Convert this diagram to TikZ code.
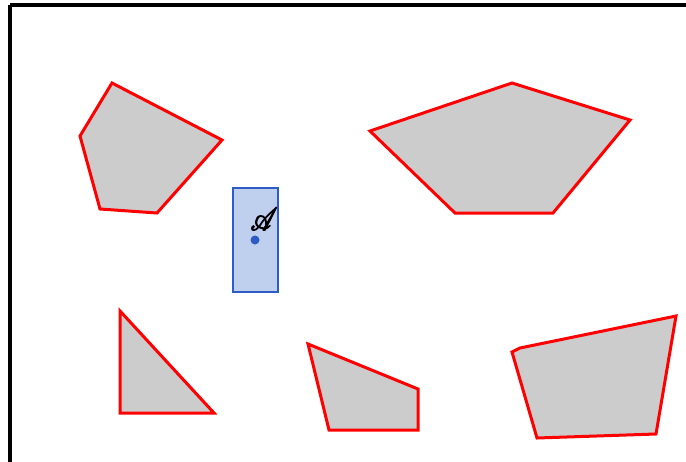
\documentclass[tikz,border=0pt]{standalone}
\usepackage{mathrsfs}
\definecolor{robfill}{HTML}{BFCFEE}
\definecolor{robdraw}{HTML}{2F5BC6}
\definecolor{obsfill}{HTML}{CCCCCC}
\newcommand{\fakebold}[1]{\special{pdf:literal direct 2 Tr 0.35 w}#1\special{pdf:literal direct 0 Tr}}
\begin{document}
\begin{tikzpicture}[x=1pt,y=-1pt,
  obst/.style={draw=red,fill=obsfill,line width=3pt,line join=miter},
  robot/.style={draw=robdraw,fill=robfill,line width=2pt}]
\useasboundingbox (0,0) rectangle (686,461);
\clip (0,0) rectangle (686,461);
\draw[line width=3.2pt] (10,5) -- (700,5);
\draw[line width=3.2pt] (10,5) -- (10,475);
\draw[obst] (112,83) -- (222,140) -- (157,213) -- (100,209) -- (80,136) -- cycle;
\draw[obst] (512,83) -- (630,120) -- (553,213) -- (455,213) -- (370,131) -- cycle;
\draw[obst] (120,311) -- (214,413) -- (120,413) -- cycle;
\draw[obst] (308,344) -- (418,389) -- (418,430) -- (329,430) -- cycle;
\draw[obst] (520,348) -- (676,316) -- (656,434) -- (537,438) -- (512,352) -- cycle;
\node[robot,minimum width=45pt,minimum height=104pt,inner sep=0pt] (rob) at (255,240) {};
\fill[robdraw] (rob.center) circle (4.5pt);
\node[inner sep=0pt,xscale=2.6,yscale=3.2] (lab) at (264,219) {\fakebold{$\mathscr{A}$}};
\end{tikzpicture}
\end{document}
